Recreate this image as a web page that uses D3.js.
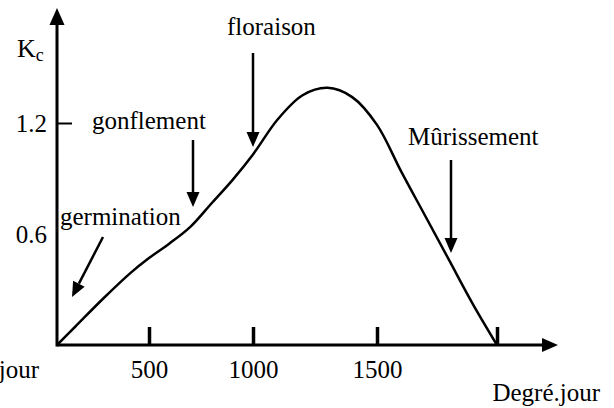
<!DOCTYPE html>
<html>
<head>
<meta charset="utf-8">
<script src="https://cdn.jsdelivr.net/npm/d3@7"></script>
<style>
  html, body { margin: 0; padding: 0; background: #fff; }
  svg { display: block; }
  svg text { font-family: "Liberation Serif", "Times New Roman", Times, "DejaVu Serif", serif; fill: #000; }
</style>
</head>
<body>
<svg id="chart" width="614" height="408"></svg>
<script>
// Crop coefficient Kc against cumulated degree-days
const degreeDays = [0, 100, 250, 400, 500, 600, 700, 800, 900, 1000, 1100, 1200, 1300, 1400, 1500, 1600, 1700, 1800, 1900, 2000];
const kcValues   = [0, 0.10, 0.25, 0.39, 0.47, 0.55, 0.64, 0.765, 0.89, 1.03, 1.22, 1.35, 1.39, 1.34, 1.19, 0.94, 0.70, 0.46, 0.22, 0];

const xTicks = [500, 1000, 1500, 2000];
const xTickLabels = ["500", "1000", "1500", ""];
const yTickLabels = [0.6, 1.2];
const yTickMarks = [1.2];

const stageNames = ["germination", "gonflement", "floraison", "Mûrissement"];
const xTitle = "Degré.jour";

// layout of the stage callouts: label anchor and arrow from/to (pixels)
const stageLayout = [
  { tx: 60,  ty: 225, x1: 103, y1: 237, x2: 72,  y2: 297 },
  { tx: 92,  ty: 129, x1: 193, y1: 140, x2: 193, y2: 207 },
  { tx: 227, ty: 35,  x1: 253, y1: 53,  x2: 253, y2: 147 },
  { tx: 408, ty: 145, x1: 451, y1: 160, x2: 451, y2: 253 }
];

const svg = d3.select("#chart");
const FONT = 25;
const SERIF = '"Liberation Serif", "Times New Roman", Times, "DejaVu Serif", serif';

// hand-spaced degree-day axis
const x = d3.scaleLinear().domain([0, 500, 1000, 1500, 2000]).range([57, 149, 253, 377, 497]);
const y = d3.scaleLinear().domain([0, 1.2]).range([345, 123]);

const x0 = x(0), y0 = y(0);
const xEnd = 558, yTop = 8;

// axes lines
svg.append("line").attr("x1", x0).attr("y1", y0).attr("x2", xEnd - 10).attr("y2", y0)
  .attr("stroke", "#000").attr("stroke-width", 3);
svg.append("line").attr("x1", x0).attr("y1", y0 + 1.5).attr("x2", x0).attr("y2", yTop + 10)
  .attr("stroke", "#000").attr("stroke-width", 3);
// arrow heads on the axes
svg.append("path").attr("d", `M${xEnd},${y0} L${xEnd - 16},${y0 - 7} L${xEnd - 16},${y0 + 7} Z`).attr("fill", "#000");
svg.append("path").attr("d", `M${x0},${yTop} L${x0 - 7.5},${yTop + 17} L${x0 + 7.5},${yTop + 17} Z`).attr("fill", "#000");

// x axis ticks and labels
const xAxis = d3.axisBottom(x).tickValues(xTicks)
  .tickFormat((d, i) => xTickLabels[i]).tickSize(-18).tickPadding(15);
const gx = svg.append("g").attr("transform", `translate(0,${y0})`).call(xAxis)
  .attr("font-family", SERIF).attr("font-size", FONT);
gx.select(".domain").remove();
gx.selectAll(".tick line").attr("stroke", "#000").attr("stroke-width", 3.5);
gx.selectAll(".tick text").attr("fill", "#000");

// y axis labels; only 1.2 carries a tick mark
const yAxis = d3.axisLeft(y).tickValues(yTickLabels).tickFormat(d3.format(".1f"))
  .tickSize(0).tickPadding(10);
const gy = svg.append("g").attr("transform", `translate(${x0},0)`).call(yAxis)
  .attr("font-family", SERIF).attr("font-size", FONT);
gy.select(".domain").remove();
gy.selectAll(".tick text").attr("fill", "#000");
gy.selectAll(".tick").filter(d => yTickMarks.includes(d)).select("line")
  .attr("x2", 15).attr("stroke", "#000").attr("stroke-width", 2);

// axis titles
const kc = svg.append("text").attr("x", 17).attr("y", 57).attr("font-size", FONT + 1);
kc.append("tspan").text("K");
kc.append("tspan").attr("font-size", 18).attr("dy", 4).text("c");
svg.append("text").attr("x", 600).attr("y", 401).attr("text-anchor", "end").attr("font-size", FONT).text(xTitle);
svg.append("text").attr("x", 39).attr("y", 378).attr("text-anchor", "end").attr("font-size", FONT).text(xTitle);

// Kc curve
const line = d3.line().x(d => x(d[0])).y(d => y(d[1])).curve(d3.curveCatmullRom.alpha(0.5));
svg.append("path").datum(degreeDays.map((d, i) => [d, kcValues[i]]))
  .attr("d", line).attr("fill", "none").attr("stroke", "#000").attr("stroke-width", 2.5);

// stage callouts
stageNames.forEach((name, i) => {
  const s = stageLayout[i];
  svg.append("text").attr("x", s.tx).attr("y", s.ty).attr("font-size", FONT).text(name);
  const ang = Math.atan2(s.y2 - s.y1, s.x2 - s.x1);
  const L = 15, W = 6.5;
  const bx = s.x2 - L * Math.cos(ang), by = s.y2 - L * Math.sin(ang);
  svg.append("line").attr("x1", s.x1).attr("y1", s.y1).attr("x2", bx).attr("y2", by)
    .attr("stroke", "#000").attr("stroke-width", 2.5);
  const px = -Math.sin(ang) * W, py = Math.cos(ang) * W;
  svg.append("path")
    .attr("d", `M${s.x2},${s.y2} L${bx + px},${by + py} L${bx - px},${by - py} Z`)
    .attr("fill", "#000");
});
</script>
</body>
</html>
